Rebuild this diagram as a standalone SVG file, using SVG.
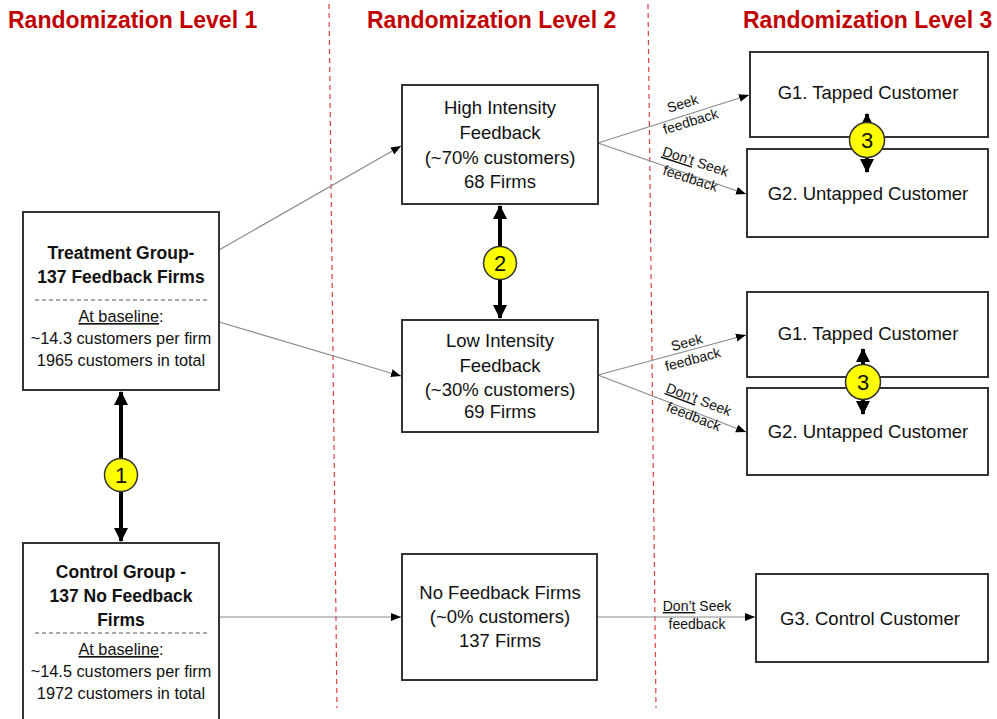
<svg xmlns="http://www.w3.org/2000/svg" width="997" height="719" viewBox="0 0 997 719">
<defs>
<marker id="ah" markerUnits="userSpaceOnUse" markerWidth="10" markerHeight="10" viewBox="0 0 10 10" refX="10" refY="5" orient="auto"><path d="M0,1 L10,5 L0,9 Z" fill="#000"/></marker>
<marker id="big" markerUnits="userSpaceOnUse" markerWidth="14" markerHeight="14" viewBox="0 0 14 14" refX="13" refY="7" orient="auto-start-reverse"><path d="M0,0 L14,7 L0,14 Z" fill="#000"/></marker>
</defs>
<style>
text{font-family:"Liberation Sans",Arial,sans-serif;fill:#111}
.title{font-size:23px;font-weight:bold;fill:#C00000}
.box{fill:#fff;stroke:#333;stroke-width:2}
.n{font-size:18.5px;text-anchor:middle}
.b{font-size:17.5px;font-weight:bold;text-anchor:middle}
.s{font-size:16.3px;text-anchor:middle}
.lab{font-size:14px;text-anchor:middle}
.thin{stroke:#8a8a8a;stroke-width:1.2;fill:none;marker-end:url(#ah)}
.thick{stroke:#000;stroke-width:4;fill:none;marker-start:url(#big);marker-end:url(#big)}
.red{stroke:#E04040;stroke-width:1.2;stroke-dasharray:5,4;fill:none}
.circ{fill:#FFFF00;stroke:#333;stroke-width:1.5}
.num{font-size:22px;text-anchor:middle}
.dash{stroke:#555;stroke-width:1;stroke-dasharray:4,3}
</style>
<rect width="997" height="719" fill="#fff"/>
<g id="titles">
<text class="title" x="8" y="28">Randomization Level 1</text>
<text class="title" x="367" y="28">Randomization Level 2</text>
<text class="title" x="743" y="28">Randomization Level 3</text>
</g>
<g id="dividers">
<line class="red" x1="329" y1="4" x2="337" y2="708"/>
<line class="red" x1="648" y1="4" x2="656" y2="708"/>
</g>
<g id="connectors">
<line class="thin" x1="219" y1="250" x2="401" y2="146"/>
<line class="thin" x1="219" y1="322" x2="401" y2="376"/>
<line class="thin" x1="219" y1="617" x2="401" y2="617"/>
<line class="thin" x1="598" y1="143" x2="749" y2="95"/>
<line class="thin" x1="598" y1="143" x2="746" y2="194"/>
<line class="thin" x1="598" y1="375" x2="746" y2="335"/>
<line class="thin" x1="598" y1="375" x2="746" y2="432"/>
<line class="thin" x1="597" y1="617" x2="755" y2="617"/>
<g id="labels">
<text class="lab" transform="translate(684,108) rotate(-17)">Seek</text>
<text class="lab" transform="translate(692,126) rotate(-17)">feedback</text>
<text class="lab" transform="translate(694,166) rotate(18)"><tspan text-decoration="underline">Don’t</tspan> Seek</text>
<text class="lab" transform="translate(689,183) rotate(18)">feedback</text>
<text class="lab" transform="translate(688,347) rotate(-15)">Seek</text>
<text class="lab" transform="translate(694,364) rotate(-15)">feedback</text>
<text class="lab" transform="translate(697,404) rotate(21)"><tspan text-decoration="underline">Don’t</tspan> Seek</text>
<text class="lab" transform="translate(692,421) rotate(21)">feedback</text>
<text class="lab" x="697" y="611"><tspan text-decoration="underline">Don’t</tspan> Seek</text>
<text class="lab" x="697" y="629">feedback</text>
</g>
</g>
<g id="treatment">
<rect class="box" x="23" y="212" width="196" height="178"/>
<text class="b" x="121" y="259">Treatment Group-</text>
<text class="b" x="121" y="283">137 Feedback Firms</text>
<line class="dash" x1="35" y1="300" x2="208" y2="300"/>
<text class="s" x="121" y="322"><tspan text-decoration="underline">At baseline</tspan>:</text>
<text class="s" x="121" y="344">~14.3 customers per firm</text>
<text class="s" x="121" y="366">1965 customers in total</text>
</g>
<g id="control">
<rect class="box" x="23" y="543" width="196" height="190"/>
<text class="b" x="121" y="578">Control Group -</text>
<text class="b" x="121" y="602">137 No Feedback</text>
<text class="b" x="121" y="626">Firms</text>
<line class="dash" x1="35" y1="633" x2="208" y2="633"/>
<text class="s" x="121" y="655"><tspan text-decoration="underline">At baseline</tspan>:</text>
<text class="s" x="121" y="677">~14.5 customers per firm</text>
<text class="s" x="121" y="699">1972 customers in total</text>
</g>
<g id="high">
<rect class="box" x="402" y="85" width="196" height="119"/>
<text class="n" x="500" y="114">High Intensity</text>
<text class="n" x="500" y="139">Feedback</text>
<text class="n" x="500" y="164">(~70% customers)</text>
<text class="n" x="500" y="188">68 Firms</text>
</g>
<g id="low">
<rect class="box" x="402" y="320" width="196" height="112"/>
<text class="n" x="500" y="347">Low Intensity</text>
<text class="n" x="500" y="372">Feedback</text>
<text class="n" x="500" y="396">(~30% customers)</text>
<text class="n" x="500" y="418">69 Firms</text>
</g>
<g id="nofeedback">
<rect class="box" x="402" y="554" width="195" height="126"/>
<text class="n" x="500" y="599">No Feedback Firms</text>
<text class="n" x="500" y="623">(~0% customers)</text>
<text class="n" x="500" y="647">137 Firms</text>
</g>
<g id="g1a">
<rect class="box" x="750" y="52" width="238" height="85"/>
<text class="n" x="868" y="99">G1. Tapped Customer</text>
</g>
<g id="g2a">
<rect class="box" x="747" y="149" width="241" height="88"/>
<text class="n" x="868" y="200">G2. Untapped Customer</text>
</g>
<g id="g1b">
<rect class="box" x="747" y="292" width="241" height="85"/>
<text class="n" x="868" y="340">G1. Tapped Customer</text>
</g>
<g id="g2b">
<rect class="box" x="747" y="388" width="241" height="87"/>
<text class="n" x="868" y="438">G2. Untapped Customer</text>
</g>
<g id="g3">
<rect class="box" x="756" y="574" width="232" height="88"/>
<text class="n" x="870" y="625">G3. Control Customer</text>
</g>
<g id="comparisons">
<line class="thick" x1="121" y1="392" x2="121" y2="541"/>
<circle class="circ" cx="121" cy="475" r="16.5"/>
<text class="num" x="121" y="483">1</text>
<line class="thick" x1="500" y1="206" x2="500" y2="318"/>
<circle class="circ" cx="500" cy="263" r="16.5"/>
<text class="num" x="500" y="271">2</text>
<line class="thick" x1="867" y1="114" x2="867" y2="172"/>
<circle class="circ" cx="867" cy="140" r="17.5"/>
<text class="num" x="867" y="148">3</text>
<line class="thick" x1="863" y1="349" x2="863" y2="414"/>
<circle class="circ" cx="863" cy="382" r="17.5"/>
<text class="num" x="863" y="390">3</text>
</g>
</svg>
